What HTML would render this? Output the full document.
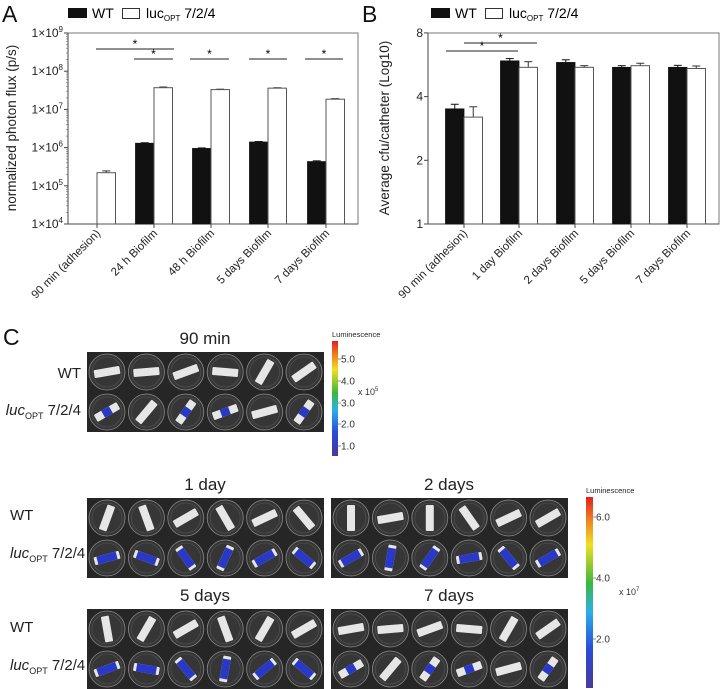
<!DOCTYPE html>
<html><head><meta charset="utf-8">
<style>
html,body{margin:0;padding:0;background:#fff;}
svg{display:block;font-family:"Liberation Sans",Arial,sans-serif;}
</style></head>
<body>
<svg id="fig" width="720" height="689" viewBox="0 0 720 689" xmlns="http://www.w3.org/2000/svg">
<defs>
<linearGradient id="lum" x1="0" y1="1" x2="0" y2="0">
<stop offset="0" stop-color="#4a3a9a"/><stop offset="0.2" stop-color="#2a4ad8"/><stop offset="0.4" stop-color="#2ab0e8"/><stop offset="0.55" stop-color="#3cb83c"/><stop offset="0.75" stop-color="#f0e020"/><stop offset="0.88" stop-color="#f08020"/><stop offset="1" stop-color="#e02020"/>
</linearGradient>
</defs>
<g id="panelA"></g>
<g id="panelB"></g>
<g id="panelC"></g>
</svg>
<script>
// ---- Panel A data ----
const catsA = ["90 min (adhesion)","24 h Biofilm","48 h Biofilm","5 days Biofilm","7 days Biofilm"];
const wtA = [null, 1.3e6, 9.5e5, 1.4e6, 4.3e5];
const lucA = [2.2e5, 3.7e7, 3.3e7, 3.6e7, 1.85e7];
const lucAErr = [2.5e4, 1.5e6, 8e5, 9e5, 6e5];
const wtAErr = [0, 4e4, 3e4, 4e4, 2e4];
const ticksA = [4,5,6,7,8,9];
// ---- Panel B data ----
const catsB = ["90 min (adhesion)","1 day Biofilm","2 days Biofilm","5 days Biofilm","7 days Biofilm"];
const wtB = [3.5, 5.9, 5.8, 5.5, 5.5];
const lucB = [3.2, 5.5, 5.5, 5.6, 5.43];
const wtBErr = [0.18, 0.15, 0.17, 0.1, 0.12];
const lucBErr = [0.38, 0.35, 0.1, 0.15, 0.15];
const ticksB = [1,2,4,8];

const NS="http://www.w3.org/2000/svg";
function mk(parent,tag,attrs,text){const e=document.createElementNS(NS,tag);for(const k in attrs)e.setAttribute(k,attrs[k]);if(text!==undefined)e.textContent=text;parent.appendChild(e);return e;}

function legend(g,x0){
  let s=mk(g,'rect',{x:x0,y:8,width:19,height:10,fill:'#111'});
  
  let t=mk(g,'text',{x:x0+24,y:18,'font-size':14},'WT');
  
  s=mk(g,'rect',{x:x0+54.5,y:8.5,width:17,height:10,fill:'#fff',stroke:'#333','stroke-width':1});
  
  t=mk(g,'text',{x:x0+78,y:18,'font-size':14});
  
  t.innerHTML='luc<tspan font-size="8" dy="3">OPT</tspan><tspan dy="-3"> 7/2/4</tspan>';
}

function drawPanel(g,o){
  const L=o.left,R=o.right,T=33,B=224;
  const xAt=i=>o.ticksX[i];
  let f=mk(g,'rect',{x:L,y:T,width:R-L,height:B-T,fill:'none',stroke:'#777','stroke-width':1});
  
  mk(g,'line',{x1:L,y1:T,x2:L,y2:B,stroke:'#444','stroke-width':1});
  mk(g,'line',{x1:L,y1:B,x2:R,y2:B,stroke:'#444','stroke-width':1});
  o.ticks.forEach(tv=>{
    const y=o.y(o.tickVal(tv));
    mk(g,'line',{x1:L-4,y1:y,x2:L,y2:y,stroke:'#444'});
    const t=mk(g,'text',{x:L-5,y:y+4,'font-size':12,'text-anchor':'end',fill:'#222'});
    
    if(o.log10){t.innerHTML='1×10<tspan font-size="8" dy="-5">'+tv+'</tspan>';}else t.textContent=tv;
  });
  if(o.minor){for(let d=4;d<9;d++)for(let m=2;m<10;m++){const y=o.y(m*Math.pow(10,d));mk(g,'line',{x1:L-2,y1:y,x2:L,y2:y,stroke:'#666','stroke-width':0.6});}}
  o.cats.forEach((c,i)=>{
    const x=xAt(i);
    mk(g,'line',{x1:x,y1:B,x2:x,y2:B+4,stroke:'#444'});
    const t=mk(g,'text',{x:x+4,y:B+10,'font-size':11.5,'text-anchor':'end',fill:'#222',transform:`rotate(-45 ${x+4} ${B+10})`},c);
    
    const bw=18.5;
    if(o.wt[i]!==null){
      const yv=o.y(o.wt[i]), ye=o.y(o.wt[i]+o.wtErr[i]);
      mk(g,'line',{x1:x-bw/2,y1:ye,x2:x-bw/2,y2:yv,stroke:'#111'});
      mk(g,'line',{x1:x-bw/2-4,y1:ye,x2:x-bw/2+4,y2:ye,stroke:'#111'});
      const r=mk(g,'rect',{x:x-bw,y:yv,width:bw,height:B-yv,fill:'#111',stroke:'#111','stroke-width':0.8});
      
    }
    const yv=o.y(o.luc[i]), ye=o.y(o.luc[i]+o.lucErr[i]);
    mk(g,'line',{x1:x+bw/2,y1:ye,x2:x+bw/2,y2:yv,stroke:'#333'});
    mk(g,'line',{x1:x+bw/2-4,y1:ye,x2:x+bw/2+4,y2:ye,stroke:'#333'});
    const r=mk(g,'rect',{x:x,y:yv,width:bw,height:B-yv,fill:'#fff',stroke:'#555','stroke-width':1});
    
  });
  const yt=mk(g,'text',{x:0,y:0,'font-size':13.5,'text-anchor':'middle',fill:'#222',transform:`translate(${o.ytx},128) rotate(-90)`},o.ytitle);
  
  o.sig.forEach(s=>{
    const l=mk(g,'line',{x1:s[0],y1:s[2],x2:s[1],y2:s[2],stroke:'#222','stroke-width':1});
    
    const t=mk(g,'text',{x:(s[0]+s[1])/2,y:s[2]-1,'font-size':12,'text-anchor':'middle'},'*');
    
  });
}

const gA=document.getElementById('panelA');
let lab=mk(gA,'text',{x:2,y:22,'font-size':23,fill:'#111'},'A');

legend(gA,68);
drawPanel(gA,{left:68,right:358,ticksX:[97,154,211,268,326],cats:catsA,wt:wtA,luc:lucA,wtErr:wtAErr,lucErr:lucAErr,
  y:v=>224-(Math.log10(v)-4)*38.2,ticks:ticksA,tickVal:t=>Math.pow(10,t),log10:true,minor:true,ytx:16,
  ytitle:'normalized photon flux (p/s)',sig:[[96,174,49],[134,173,59],[190,229,59],[249,287,59],[305,343,59]]});

const gB=document.getElementById('panelB');
lab=mk(gB,'text',{x:362,y:22,'font-size':23,fill:'#111'},'B');

legend(gB,431);
drawPanel(gB,{left:428,right:719,ticksX:[464,519,575,631,687],cats:catsB,wt:wtB,luc:lucB,wtErr:wtBErr,lucErr:lucBErr,
  y:v=>224-Math.log2(v)*63.7,ticks:ticksB,tickVal:t=>t,log10:false,minor:false,ytx:389,
  ytitle:'Average cfu/catheter (Log10)',sig:[[446,518,51],[464,537,43]]});

// ---- Panel C (imaging plates) ----
const gC=document.getElementById('panelC');
lab=mk(gC,'text',{x:3,y:345,'font-size':23,fill:'#111'},'C');

const angs=[[80,85,70,95,30,55],[60,40,35,70,75,35],[20,160,60,150,65,140],[75,110,145,25,60,130],[0,80,0,145,65,60],[60,10,35,80,140,60],[170,30,60,160,30,60],[70,100,140,10,50,130]];
const glow=[[1,0,1,1,0,1],[1,1,1,1,1,1],[1,1,1,1,1,1],[1,1,1,1,1,1]];
function plate(x,y,title,idx,key){
  const g=mk(gC,'g',{});
  
  const t=mk(gC,'text',{x:x+118,y:y-8,'font-size':17,'text-anchor':'middle',fill:'#222'},title);
  
  mk(g,'rect',{x:x,y:y,width:237,height:80,fill:'#262626'});
  for(let r=0;r<2;r++)for(let c=0;c<6;c++){
    const cx=x+20+c*39.4, cy=y+20+r*40;
    mk(g,'circle',{cx:cx,cy:cy,r:18,fill:'#363636',stroke:'#8a8a8a','stroke-width':0.8});
    mk(g,'circle',{cx:cx,cy:cy,r:15,fill:'none',stroke:'#555','stroke-width':0.6});
    const a=angs[idx*2+r][c];
    mk(g,'rect',{x:cx-4,y:cy-13,width:8,height:26,rx:1,fill:'#e6e6e6',transform:`rotate(${a} ${cx} ${cy})`});
    if(r===1&&glow[idx][c]){
      const h=idx===0?9:20;
      mk(g,'rect',{x:cx-4,y:cy-h/2,width:8,height:h,fill:'#2a38c8',transform:`rotate(${a} ${cx} ${cy})`});
    }
  }
}
function rowLabels(xr,y1,y2,anchor){
  let t=mk(gC,'text',{x:xr,y:y1,'font-size':15,'text-anchor':anchor,fill:'#222'},'WT');
  
  t=mk(gC,'text',{x:xr,y:y2,'font-size':15,'text-anchor':anchor,fill:'#222'});
  
  t.innerHTML='<tspan font-style="italic">luc</tspan><tspan font-size="9" dy="4">OPT</tspan><tspan dy="-4"> 7/2/4</tspan>';
}
plate(87,352,'90 min',0,'90min');
rowLabels(81,378,415,'end');
plate(87,498,'1 day',1,'1day');
plate(331,498,'2 days',2,'2days');
plate(87,609,'5 days',3,'5days');
plate(331,609,'7 days',0,'7days');
rowLabels(10,520,558,'start');
rowLabels(10,632,670,'start');

function colorbar(x,y,w,h,labels,ys,exp,ex,ey,key){
  const t=mk(gC,'text',{x:x,y:y-4,'font-size':7.5,fill:'#222'},'Luminescence');
  
  const r=mk(gC,'rect',{x:x,y:y,width:w,height:h,fill:'url(#lum)'});
  
  labels.forEach((l,i)=>{
    mk(gC,'line',{x1:x+w,y1:ys[i],x2:x+w+3,y2:ys[i],stroke:'#444','stroke-width':0.6});
    const tt=mk(gC,'text',{x:x+w+3,y:ys[i]+3.5,'font-size':10,fill:'#333'},l);
    
  });
  const e=mk(gC,'text',{x:ex,y:ey,'font-size':9,fill:'#333'});
  e.innerHTML='x 10<tspan font-size="6" dy="-4">'+exp+'</tspan>';
  
}
colorbar(332,341,6,115,['5.0','4.0','3.0','2.0','1.0'],[359,381,403,424,446],'5',358,395,'90min');
colorbar(586,497,7,191,['6.0','4.0','2.0'],[517,578,639],'7',619,595,'biofilm');
</script>
</body></html>
